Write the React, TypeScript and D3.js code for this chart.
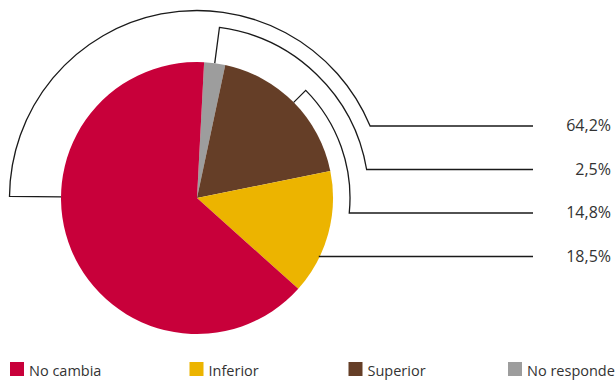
import React, { useRef, useEffect } from "react";
import * as d3 from "d3";

// slices in drawing order (clockwise from the top)
const categories = ["No responde", "Superior", "Inferior", "No cambia"];
const values = [2.5, 18.5, 14.8, 64.2];
const colors = ["#9d9d9d", "#653e27", "#ecb400", "#c8003a"];

// callout rows on the right, top to bottom
const calloutKeys = ["No cambia", "No responde", "Superior", "Inferior"];
const calloutText = ["64,2%", "2,5%", "14,8%", "18,5%"];

// legend order
const legendKeys = ["No cambia", "Inferior", "Superior", "No responde"];

const App: React.FC = () => {
  const ref = useRef<SVGSVGElement | null>(null);

  useEffect(() => {
    if (!ref.current) return;
    document.body.style.margin = "0";
    const svg = d3.select(ref.current);
    svg.selectAll("*").remove();

    const width = 616;
    const height = 383;
    const cx = 197;
    const cy = 198;
    const r = 136;
    const font = "'Open Sans', sans-serif";

    svg.attr("width", width).attr("height", height);

    const color = d3.scaleOrdinal<string, string>().domain(categories).range(colors);

    const deg = Math.PI / 180;
    const pie = d3
      .pie<number>()
      .sort(null)
      .startAngle(3 * deg)
      .endAngle(363 * deg);
    const arcs = pie(values);
    const arcGen = d3.arc<d3.PieArcDatum<number>>().innerRadius(0).outerRadius(r);

    const g = svg.append("g").attr("transform", `translate(${cx},${cy})`);
    g.selectAll("path")
      .data(arcs)
      .enter()
      .append("path")
      .attr("d", arcGen)
      .attr("fill", (d, i) => color(categories[i]));

    // callouts
    const rowY = d3.scaleLinear().domain([0, 3]).range([126, 256.5]);
    const lineEnd = 533;
    const textRight = 611;
    const midAngle = (key: string) => {
      const a = arcs[categories.indexOf(key)];
      return (a.startAngle + a.endAngle) / 2;
    };
    // radius of each callout's arc and where the leader leaves the pie
    const calloutRadius: Record<string, number> = {
      "No cambia": 187.5,
      "No responde": 172,
      Superior: 153,
    };
    const leaveAngle: Record<string, number> = {
      "No cambia": 270.5 * deg,
      "No responde": midAngle("No responde"),
      Superior: midAngle("Superior"),
    };

    calloutKeys.forEach((key, i) => {
      const y = rowY(i);
      const p = d3.path();
      if (calloutRadius[key]) {
        const R = calloutRadius[key];
        const a0 = leaveAngle[key];
        let a1 = Math.acos((cy - y) / R);
        while (a1 < a0) a1 += 2 * Math.PI;
        p.moveTo(cx + r * Math.sin(a0), cy - r * Math.cos(a0));
        p.lineTo(cx + R * Math.sin(a0), cy - R * Math.cos(a0));
        p.arc(cx, cy, R, a0 - Math.PI / 2, a1 - Math.PI / 2, false);
        p.lineTo(lineEnd, y);
      } else {
        const x0 = cx + Math.sqrt(r * r - (y - cy) * (y - cy));
        p.moveTo(x0 - 1, y);
        p.lineTo(lineEnd, y);
      }
      svg
        .append("path")
        .attr("d", p.toString())
        .attr("fill", "none")
        .attr("stroke", "#1a1a1a")
        .attr("stroke-width", 1.3);

      svg
        .append("text")
        .attr("x", textRight)
        .attr("y", y + 5)
        .attr("text-anchor", "end")
        .attr("font-family", font)
        .attr("font-size", 16)
        .attr("fill", "#333")
        .text(calloutText[i]);
    });

    // legend
    const legendX = [10, 189.5, 348.5, 508];
    const legend = svg
      .append("g")
      .selectAll("g")
      .data(legendKeys)
      .enter()
      .append("g")
      .attr("transform", (d, i) => `translate(${legendX[i]},362)`);
    legend
      .append("rect")
      .attr("width", 14)
      .attr("height", 14)
      .attr("fill", (d) => color(d));
    legend
      .append("text")
      .attr("x", 19)
      .attr("y", 14)
      .attr("font-family", font)
      .attr("font-size", 14.5)
      .attr("fill", "#333")
      .text((d) => d);
  }, []);

  return <svg ref={ref} style={{ display: "block" }} />;
};

export default App;
